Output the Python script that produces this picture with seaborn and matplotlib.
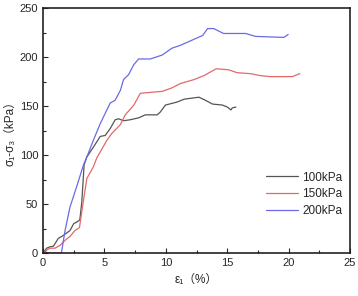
import matplotlib
matplotlib.use("Agg")
import matplotlib.pyplot as plt
import seaborn as sns
import pandas as pd
from matplotlib.ticker import MultipleLocator

x_100 = [0, 0.3, 0.57, 0.85, 1.25, 1.66, 2.2, 2.5, 2.8, 3.0, 3.16, 3.35, 3.57, 4.1, 4.66, 5.07, 5.47, 5.88, 6.15, 6.56, 7.1, 7.8, 8.33, 9.3, 9.56, 9.97, 10.9, 11.5, 12.1, 12.7, 13.2, 13.8, 14.6, 15.0, 15.3, 15.4, 15.7]
y_100 = [0, 5, 6.4, 7, 15, 18, 23, 30, 32, 34, 52, 90, 98, 108, 119, 120, 127, 136, 137, 135, 136, 138, 141, 141, 144, 151, 154, 157, 158, 159, 156, 152, 151, 149, 146, 148, 149]

x_150 = [0, 0.3, 0.57, 0.98, 1.4, 1.8, 2.2, 2.6, 2.97, 3.3, 3.57, 4.1, 4.38, 5.2, 5.6, 6.3, 6.7, 7.4, 7.92, 9.7, 10.4, 11.2, 12.3, 13.1, 14.1, 15.1, 15.8, 16.9, 17.7, 18.5, 20.3, 20.9]
y_150 = [0, 3, 5, 5, 8, 13, 17, 23, 26, 54, 76, 88, 97, 115, 122, 131, 141, 151, 163, 165, 168, 173, 177, 181, 188, 187, 184, 183, 181, 180, 180, 183]

x_200 = [0, 0.2, 0.4, 1.5, 1.8, 2.2, 2.75, 3.3, 3.57, 4.1, 4.66, 5.47, 5.88, 6.3, 6.56, 6.97, 7.38, 7.79, 8.74, 9.7, 10.5, 11.2, 12.1, 13.0, 13.4, 13.9, 14.7, 16.5, 17.3, 19.6, 19.96]
y_200 = [0, 1.5, 0, 0, 23, 47, 68, 90, 98, 115, 132, 153, 156, 166, 177, 182, 192, 198, 198, 202, 209, 212, 217, 222, 229, 229, 224, 224, 221, 220, 223]

labels = ["100kPa", "150kPa", "200kPa"]
colors = ["#555555", "#e06a6a", "#6a6ae6"]

frames = []
for xs, ys, lab in zip([x_100, x_150, x_200], [y_100, y_150, y_200], labels):
    frames.append(pd.DataFrame({"strain": xs, "stress": ys, "confining": lab}))
df = pd.concat(frames, ignore_index=True)

sns.set_style("ticks")
plt.rcParams['font.family'] = ['Liberation Sans', 'DejaVu Sans', 'Noto Sans CJK SC']

fig = plt.figure(figsize=(3.58, 2.96), dpi=100)
ax = fig.add_axes([0.120, 0.145, 0.858, 0.828])

sns.lineplot(data=df, x="strain", y="stress", hue="confining", units="confining",
             estimator=None, sort=False, palette=dict(zip(labels, colors)),
             linewidth=0.9, ax=ax)

ax.set_xlim(0, 25)
ax.set_ylim(0, 250)
ax.xaxis.set_major_locator(MultipleLocator(5))
ax.xaxis.set_minor_locator(MultipleLocator(2.5))
ax.yaxis.set_major_locator(MultipleLocator(50))
ax.yaxis.set_minor_locator(MultipleLocator(25))
ax.tick_params(which="both", direction="in", top=False, right=False, labelsize=8, width=0.8)
ax.tick_params(which="major", length=3.5)
ax.tick_params(which="minor", length=2)
for s in ax.spines.values():
    s.set_linewidth(1.2)
    s.set_color("#222222")

ax.set_xlabel("ε₁（%）", fontsize=8.5, labelpad=4)
ax.set_ylabel("σ₁-σ₃（kPa）", fontsize=8.5, labelpad=2)

leg = ax.legend(title=None, frameon=False, fontsize=8.5, loc="center right",
                bbox_to_anchor=(1.01, 0.24), handlelength=2.7, handletextpad=0.35,
                labelspacing=0.4)

fig.savefig("out.png", dpi=100)
